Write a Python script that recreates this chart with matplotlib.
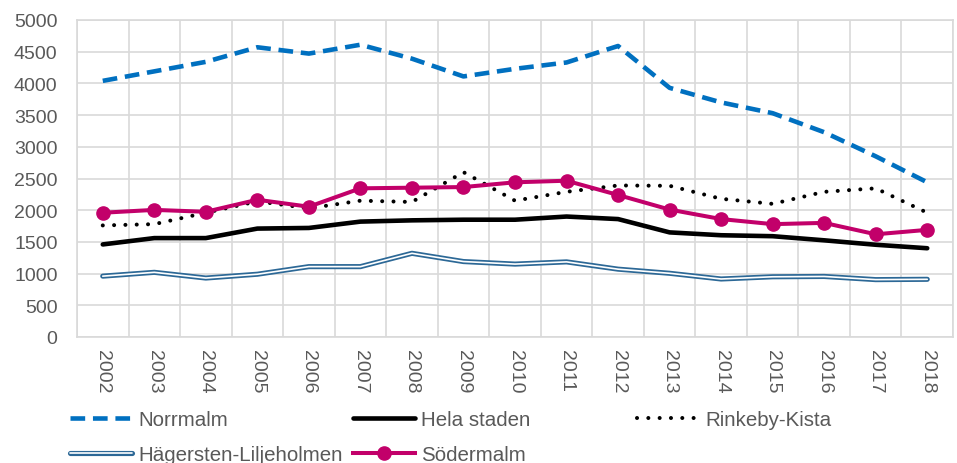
import numpy as np
import matplotlib.pyplot as plt

# data
years = [str(y) for y in range(2002, 2019)]
norrmalm = [4040, 4190, 4340, 4570, 4470, 4610, 4390, 4110, 4230, 4330, 4590, 3930, 3700, 3530, 3230, 2850, 2440]
hela_staden = [1460, 1560, 1560, 1710, 1720, 1820, 1840, 1850, 1850, 1900, 1860, 1650, 1605, 1590, 1525, 1455, 1400]
rinkeby = [1760, 1780, 1960, 2140, 2030, 2150, 2130, 2600, 2150, 2290, 2390, 2385, 2180, 2100, 2290, 2345, 1960]
hagersten = [960, 1020, 930, 990, 1110, 1110, 1320, 1190, 1150, 1185, 1070, 1005, 915, 950, 955, 905, 910]
sodermalm = [1960, 2005, 1975, 2165, 2055, 2345, 2355, 2365, 2440, 2465, 2240, 2010, 1860, 1780, 1800, 1620, 1690]
labels = ['Norrmalm', 'Hela staden', 'Rinkeby-Kista', 'Hägersten-Liljeholmen', 'Södermalm']

plt.rcParams['font.family'] = ['Liberation Sans', 'DejaVu Sans']

grey_txt = '#595959'
grid_c = '#d9d9d9'

fig = plt.figure(figsize=(9.57, 4.64), dpi=100)
ax = fig.add_axes([77/957, 1 - 338/464, 876/957, 317/464])

x = np.arange(len(years))
l_norr, = ax.plot(x, norrmalm, color='#0070C0', lw=3.3, dashes=(3.2, 1.7), zorder=3)
l_hela, = ax.plot(x, hela_staden, color='black', lw=3.3, solid_capstyle='round', zorder=3)
l_rink, = ax.plot(x, rinkeby, color='black', lw=2.9, linestyle=(0, (0.01, 2.8)),
                  dash_capstyle='round', zorder=3)
l_hag1, = ax.plot(x, hagersten, color='#2C6896', lw=3.7, solid_capstyle='round', zorder=3)
l_hag2, = ax.plot(x, hagersten, color='white', lw=1.2, solid_capstyle='round', zorder=3)
l_sod, = ax.plot(x, sodermalm, color='#C2006A', lw=2.9, marker='o', markersize=9.5, zorder=4)

ax.set_xlim(-0.5, len(years) - 0.5)
ax.set_ylim(0, 5000)
ax.set_yticks(np.arange(0, 5001, 500))
ax.set_xticks(x)
ax.set_xticklabels(years, rotation=270)
ax.set_xticks(np.arange(-0.5, len(years), 1), minor=True)
ax.grid(True, axis='y', color=grid_c, lw=1.2, zorder=0)
ax.grid(True, axis='x', which='minor', color=grid_c, lw=1.2, zorder=0)
ax.grid(False, axis='x', which='major')
for s in ax.spines.values():
    s.set_color(grid_c)
    s.set_linewidth(1.2)
ax.tick_params(axis='both', which='both', length=0, colors=grey_txt, labelsize=14)
ax.tick_params(axis='y', pad=14)
ax.tick_params(axis='x', pad=9)

# legend entries placed like the reference (three columns, two rows)
leg_size = 14.8
entries = [
    (l_norr, labels[0], 70, 421),
    (l_hela, labels[1], 353, 421),
    (l_rink, labels[2], 637, 421),
    ((l_hag1, l_hag2), labels[3], 70, 456),
    (l_sod, labels[4], 353, 456),
]
for h, lab, px, py in entries:
    leg = fig.legend([h], [lab], loc='center left', bbox_to_anchor=(px/957, 1 - py/464),
                     frameon=False, borderpad=0, borderaxespad=0,
                     handlelength=3.0, handletextpad=0.33, numpoints=1,
                     fontsize=leg_size)
    for t in leg.get_texts():
        t.set_color(grey_txt)

fig.savefig('out.png', dpi=100)
